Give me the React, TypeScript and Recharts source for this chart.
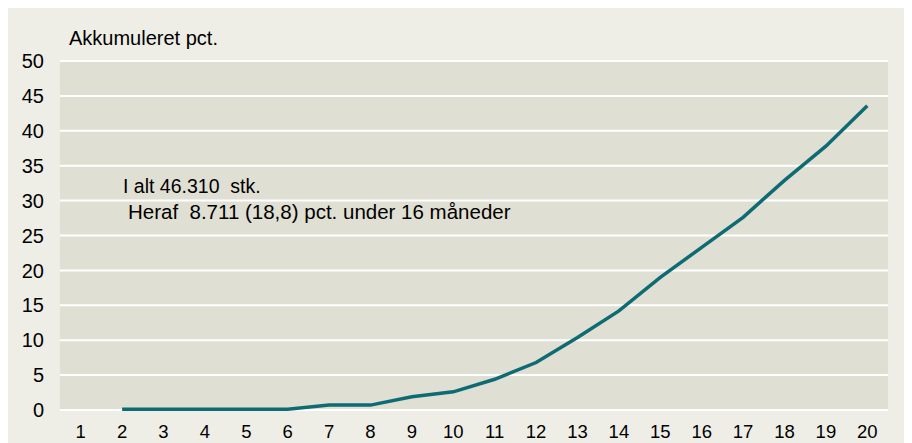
import React from 'react';
import { LineChart, Line, XAxis, YAxis, CartesianGrid } from 'recharts';

// alder i måneder
const months: string[] = ['1', '2', '3', '4', '5', '6', '7', '8', '9', '10', '11', '12', '13', '14', '15', '16', '17', '18', '19', '20'];
// akkumuleret pct.
const accumulated: (number | null)[] = [null, 0.1, 0.1, 0.1, 0.1, 0.1, 0.7, 0.7, 1.9, 2.6, 4.4, 6.8, 10.4, 14.2, 19.0, 23.3, 27.6, 32.9, 37.8, 43.6];
const yTicks: number[] = [0, 5, 10, 15, 20, 25, 30, 35, 40, 45, 50];

const data = months.map((m, i) => ({ month: m, pct: accumulated[i] }));

const font = '"Liberation Sans", Arial, sans-serif';

const App = () => {
    return (
        <div style={{ position: 'relative', width: 912, height: 443, margin: '-8px 0 0 -8px', overflow: 'hidden', background: '#ffffff', fontFamily: font }}>
            <div style={{ position: 'absolute', left: 11, top: -16, fontSize: 24, fontWeight: 'bold', whiteSpace: 'nowrap', color: '#000' }}>
                Akkumuleret slagtning af kvier og kviekalve efter alder i 2015
            </div>
            <div style={{ position: 'absolute', left: 7, top: 8, width: 905, height: 435, background: '#EEEEE7' }} />
            <div style={{ position: 'absolute', left: 0, top: 0 }}>
                <LineChart
                    width={912}
                    height={443}
                    data={data}
                    margin={{ top: 61, right: 24, bottom: 3, left: 0 }}
                >
                    <CartesianGrid vertical={false} stroke="#ffffff" strokeWidth={2} fill="#E0DFD3" />
                    <XAxis
                        dataKey="month"
                        height={30}
                        padding={{ left: 20.7, right: 20.7 }}
                        axisLine={false}
                        tickLine={false}
                        tickSize={0}
                        tickMargin={15}
                        interval={0}
                        tick={{ fill: '#000', fontSize: 18.5, fontFamily: font }}
                    />
                    <YAxis
                        width={60}
                        domain={[0, 50]}
                        ticks={yTicks}
                        axisLine={false}
                        tickLine={false}
                        tickSize={0}
                        tickMargin={16}
                        tick={{ fill: '#000', fontSize: 20, fontFamily: font }}
                    />
                    <Line
                        type="linear"
                        dataKey="pct"
                        stroke="#0E6B74"
                        strokeWidth={3.5}
                        dot={false}
                        connectNulls={false}
                        isAnimationActive={false}
                    />
                </LineChart>
            </div>
            <div style={{ position: 'absolute', left: 69, top: 27, fontSize: 20, color: '#000', whiteSpace: 'nowrap' }}>
                Akkumuleret pct.
            </div>
            <div style={{ position: 'absolute', left: 123, top: 175, fontSize: 19.5, color: '#000', whiteSpace: 'pre' }}>
                {'I alt 46.310  stk.'}
            </div>
            <div style={{ position: 'absolute', left: 128, top: 200, fontSize: 20.5, color: '#000', whiteSpace: 'pre' }}>
                {'Heraf  8.711 (18,8) pct. under 16 måneder'}
            </div>
        </div>
    );
};

export default App;
